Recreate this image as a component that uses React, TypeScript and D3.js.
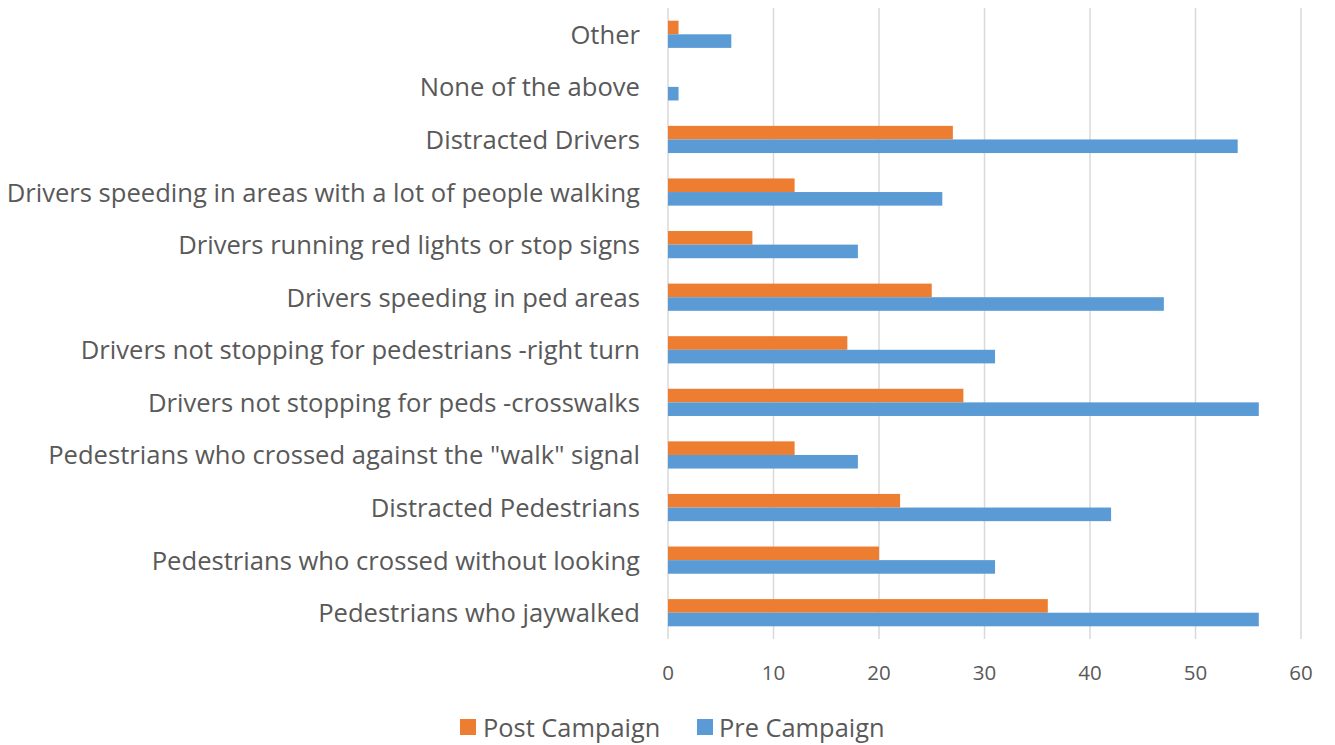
import React from "react";
import * as d3 from "d3";

const categories = [
  "Other",
  "None of the above",
  "Distracted Drivers",
  "Drivers speeding in areas with a lot of people walking",
  "Drivers running red lights or stop signs",
  "Drivers speeding in ped areas",
  "Drivers not stopping for pedestrians -right turn",
  "Drivers not stopping for peds -crosswalks",
  "Pedestrians who crossed against the \"walk\" signal",
  "Distracted Pedestrians",
  "Pedestrians who crossed without looking",
  "Pedestrians who jaywalked",
];
const postCampaign = [1, 0, 27, 12, 8, 25, 17, 28, 12, 22, 20, 36];
const preCampaign = [6, 1, 54, 26, 18, 47, 31, 56, 18, 42, 31, 56];
const seriesNames = ["Post Campaign", "Pre Campaign"];
const xTicks = [0, 10, 20, 30, 40, 50, 60];

const COLORS = ["#ED7D31", "#5B9BD5"];
const FONT = "'Open Sans', sans-serif";
const TEXT = "#595959";

export default function App() {
  const W = 1335, H = 745;
  const left = 668, right = 1301, top = 8, bottom = 639;
  const x = d3.scaleLinear().domain([0, 60]).range([left, right]);
  const y = d3.scaleBand<string>().domain(categories).range([top, bottom]);
  const bw = 13.6;
  const series = [postCampaign, preCampaign];

  return (
    <svg width={W} height={H} style={{ position: "absolute", left: 0, top: 0, background: "#fff" }}>
      {xTicks.map((t) => (
        <line key={t} x1={x(t)} x2={x(t)} y1={top} y2={bottom} stroke="#D9D9D9" strokeWidth={1.5} />
      ))}
      {categories.map((c, i) => {
        const cy = (y(c) as number) + y.bandwidth() / 2;
        return (
          <g key={c}>
            {series.map((s, k) => (
              <rect
                key={k}
                x={x(0)}
                y={cy - bw + k * bw}
                width={x(s[i]) - x(0)}
                height={bw}
                fill={COLORS[k]}
              />
            ))}
            <text x={640} y={cy} textAnchor="end" dominantBaseline="central" fontFamily={FONT} fontSize={25.6} fill={TEXT}>
              {c}
            </text>
          </g>
        );
      })}
      {xTicks.map((t) => (
        <text key={t} x={x(t)} y={672} textAnchor="middle" dominantBaseline="central" fontFamily={FONT} fontSize={20.5} fill={TEXT}>
          {t}
        </text>
      ))}
      <g>
        <rect x={460} y={719} width={16} height={16} fill={COLORS[0]} />
        <text x={483} y={727} dominantBaseline="central" fontFamily={FONT} fontSize={25.4} fill={TEXT}>{seriesNames[0]}</text>
        <rect x={697} y={719} width={16} height={16} fill={COLORS[1]} />
        <text x={719} y={727} dominantBaseline="central" fontFamily={FONT} fontSize={25.4} fill={TEXT}>{seriesNames[1]}</text>
      </g>
    </svg>
  );
}
